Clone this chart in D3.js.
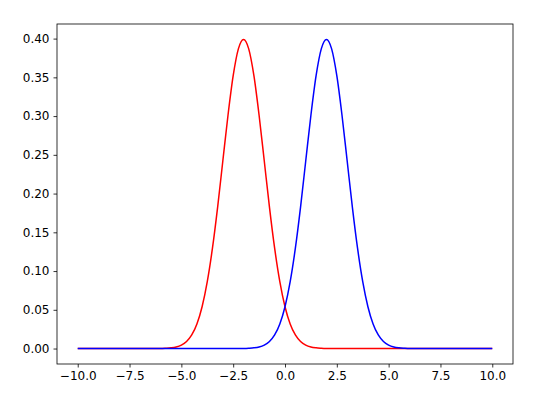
<!DOCTYPE html>
<html lang="en">
<head>
<meta charset="UTF-8">
<title>Two normal curves</title>
<script src="https://d3js.org/d3.v7.min.js"></script>
<style>
    body { margin: 0; background: #fff; }
    svg { display: block; }
    .tick text { font-family: "DejaVu Sans", sans-serif; font-size: 12px; fill: #000; }
    .tick line { stroke: #000; stroke-width: 0.8; }
    .domain { display: none; }
</style>
</head>
<body>
<svg id="chart" width="540" height="396"></svg>
<script>
    // x positions sampled along the curves
    const xValues = [-10, -8,
        -6, -5.75, -5.5, -5.25, -5, -4.75, -4.5, -4.25, -4, -3.75, -3.5, -3.25, -3, -2.75, -2.5, -2.25,
        -2, -1.75, -1.5, -1.25, -1, -0.75, -0.5, -0.25, 0, 0.25, 0.5, 0.75, 1, 1.25, 1.5, 1.75,
        2, 2.25, 2.5, 2.75, 3, 3.25, 3.5, 3.75, 4, 4.25, 4.5, 4.75, 5, 5.25, 5.5, 5.75, 6,
        8, 10];

    // red curve (peak near x = -2)
    const redValues = [0, 0,
        0.0001, 0.0004, 0.0009, 0.0020, 0.0044, 0.0091, 0.0175, 0.0317, 0.0540, 0.0863, 0.1295, 0.1826, 0.2420, 0.3011, 0.3521, 0.3867,
        0.3989, 0.3867, 0.3521, 0.3011, 0.2420, 0.1826, 0.1295, 0.0863, 0.0540, 0.0317, 0.0175, 0.0091, 0.0044, 0.0020, 0.0009, 0.0004,
        0.0001, 0, 0, 0, 0, 0, 0, 0, 0, 0, 0, 0, 0, 0, 0, 0, 0,
        0, 0];

    // blue curve (peak near x = 2)
    const blueValues = [0, 0,
        0, 0, 0, 0, 0, 0, 0, 0, 0, 0, 0, 0, 0, 0, 0, 0,
        0.0001, 0.0004, 0.0009, 0.0020, 0.0044, 0.0091, 0.0175, 0.0317, 0.0540, 0.0863, 0.1295, 0.1826, 0.2420, 0.3011, 0.3521, 0.3867,
        0.3989, 0.3867, 0.3521, 0.3011, 0.2420, 0.1826, 0.1295, 0.0863, 0.0540, 0.0317, 0.0175, 0.0091, 0.0044, 0.0020, 0.0009, 0.0004, 0.0001,
        0, 0];

    const xTicks = [-10, -7.5, -5, -2.5, 0, 2.5, 5, 7.5, 10];
    const yTicks = [0, 0.05, 0.10, 0.15, 0.20, 0.25, 0.30, 0.35, 0.40];

    const margin = { top: 24, right: 27, bottom: 32, left: 57 };
    const width = 540 - margin.left - margin.right;
    const height = 396 - margin.top - margin.bottom;

    const svg = d3.select("#chart");
    const g = svg.append("g").attr("transform", `translate(${margin.left},${margin.top})`);

    // matplotlib style 5% padding
    const yMax = d3.max(redValues.concat(blueValues));
    const x = d3.scaleLinear().domain([-11, 11]).range([0, width]);
    const y = d3.scaleLinear().domain([-yMax * 0.05, yMax * 1.05]).range([height, 0]);

    const minus = s => s.replace("-", "\u2212");

    g.append("g")
        .attr("transform", `translate(0,${height})`)
        .call(d3.axisBottom(x).tickValues(xTicks).tickSize(3.5).tickPadding(4)
            .tickFormat(d => minus(d3.format(".1f")(d))));

    g.append("g")
        .call(d3.axisLeft(y).tickValues(yTicks).tickSize(3.5).tickPadding(4)
            .tickFormat(d3.format(".2f")));

    const line = (ys) => d3.line()
        .x((d, i) => x(xValues[i]))
        .y(d => y(d))
        .curve(d3.curveMonotoneX)(ys);

    g.append("path")
        .attr("d", line(redValues))
        .attr("fill", "none")
        .attr("stroke", "#ff0000")
        .attr("stroke-width", 1.5);

    g.append("path")
        .attr("d", line(blueValues))
        .attr("fill", "none")
        .attr("stroke", "#0000ff")
        .attr("stroke-width", 1.5);

    // frame
    g.append("rect")
        .attr("width", width)
        .attr("height", height)
        .attr("fill", "none")
        .attr("stroke", "#000")
        .attr("stroke-width", 0.8);
</script>
</body>
</html>
